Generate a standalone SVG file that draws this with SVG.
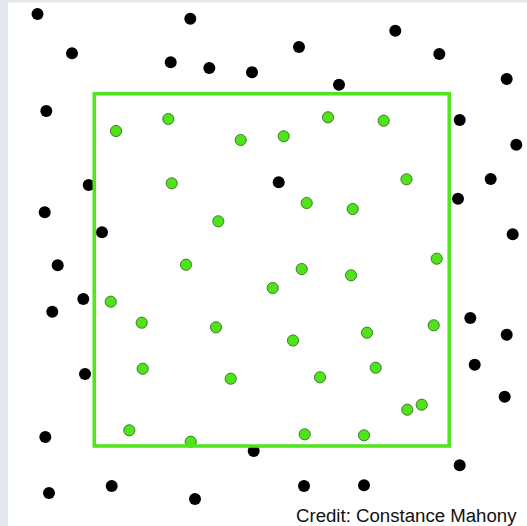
<svg xmlns="http://www.w3.org/2000/svg" width="527" height="526" viewBox="0 0 527 526">
<style>
.b{fill:#000}
.g{fill:#4fe41a;stroke:#2d5e1c;stroke-width:0.8}
.frame{fill:none;stroke:#52e51e;stroke-width:3.6}
.credit{font-family:"Liberation Sans",Arial,sans-serif;font-size:18px;fill:#111}
</style>
<rect x="0" y="0" width="527" height="526" fill="#ffffff"/>
<rect x="0" y="0" width="8" height="526" fill="#e5e9ed"/>
<rect x="0" y="0" width="527" height="2.5" fill="#e5e9ed"/>
<g id="black-dots">
<circle class="b" cx="37.5" cy="14" r="6"/>
<circle class="b" cx="190.3" cy="18.7" r="6"/>
<circle class="b" cx="72" cy="53.3" r="6"/>
<circle class="b" cx="170.7" cy="62.3" r="6"/>
<circle class="b" cx="209.3" cy="68" r="6"/>
<circle class="b" cx="252" cy="72.3" r="6"/>
<circle class="b" cx="46.3" cy="111" r="6"/>
<circle class="b" cx="395.3" cy="30.7" r="6"/>
<circle class="b" cx="299" cy="47" r="6"/>
<circle class="b" cx="439.3" cy="54" r="6"/>
<circle class="b" cx="339" cy="84.7" r="6"/>
<circle class="b" cx="506.7" cy="79" r="6"/>
<circle class="b" cx="459.7" cy="120" r="6"/>
<circle class="b" cx="516.3" cy="144.7" r="6"/>
<circle class="b" cx="88.7" cy="185" r="6"/>
<circle class="b" cx="44.7" cy="212.3" r="6"/>
<circle class="b" cx="102" cy="232.3" r="6"/>
<circle class="b" cx="57.7" cy="265.3" r="6"/>
<circle class="b" cx="83.3" cy="299" r="6"/>
<circle class="b" cx="52.3" cy="311.7" r="6"/>
<circle class="b" cx="278.7" cy="182.3" r="6"/>
<circle class="b" cx="490.7" cy="179" r="6"/>
<circle class="b" cx="458" cy="198.7" r="6"/>
<circle class="b" cx="512.7" cy="234.3" r="6"/>
<circle class="b" cx="470.3" cy="318" r="6"/>
<circle class="b" cx="506.7" cy="334.7" r="6"/>
<circle class="b" cx="85" cy="374" r="6"/>
<circle class="b" cx="474.7" cy="364.7" r="6"/>
<circle class="b" cx="504.7" cy="396.7" r="6"/>
<circle class="b" cx="45.3" cy="437" r="6"/>
<circle class="b" cx="253.7" cy="451" r="6"/>
<circle class="b" cx="49" cy="493" r="6"/>
<circle class="b" cx="111.7" cy="486" r="6"/>
<circle class="b" cx="195" cy="499" r="6"/>
<circle class="b" cx="459.7" cy="465.3" r="6"/>
<circle class="b" cx="304" cy="486" r="6"/>
<circle class="b" cx="364" cy="485.3" r="6"/>
</g>
<g id="green-dots">
<circle class="g" cx="116" cy="131" r="5.6"/>
<circle class="g" cx="168.3" cy="119" r="5.6"/>
<circle class="g" cx="240.7" cy="140" r="5.6"/>
<circle class="g" cx="328" cy="117.3" r="5.6"/>
<circle class="g" cx="383.7" cy="120.7" r="5.6"/>
<circle class="g" cx="283.7" cy="136.3" r="5.6"/>
<circle class="g" cx="406.5" cy="179.3" r="5.6"/>
<circle class="g" cx="171.7" cy="183.3" r="5.6"/>
<circle class="g" cx="218.3" cy="221.3" r="5.6"/>
<circle class="g" cx="186" cy="264.7" r="5.6"/>
<circle class="g" cx="110.7" cy="301.7" r="5.6"/>
<circle class="g" cx="141.7" cy="322.7" r="5.6"/>
<circle class="g" cx="216" cy="327.3" r="5.6"/>
<circle class="g" cx="306.7" cy="203" r="5.6"/>
<circle class="g" cx="352.7" cy="209" r="5.6"/>
<circle class="g" cx="436.7" cy="258.7" r="5.6"/>
<circle class="g" cx="301.7" cy="269" r="5.6"/>
<circle class="g" cx="351" cy="275.3" r="5.6"/>
<circle class="g" cx="272.7" cy="288" r="5.6"/>
<circle class="g" cx="433.7" cy="325.3" r="5.6"/>
<circle class="g" cx="293" cy="340.5" r="5.6"/>
<circle class="g" cx="367" cy="332.7" r="5.6"/>
<circle class="g" cx="142.7" cy="368.7" r="5.6"/>
<circle class="g" cx="230.7" cy="378.7" r="5.6"/>
<circle class="g" cx="320" cy="377.3" r="5.6"/>
<circle class="g" cx="375.7" cy="367.7" r="5.6"/>
<circle class="g" cx="407.3" cy="409.7" r="5.6"/>
<circle class="g" cx="421.7" cy="404.7" r="5.6"/>
<circle class="g" cx="129.3" cy="430.3" r="5.6"/>
<circle class="g" cx="190.7" cy="441.7" r="5.6"/>
<circle class="g" cx="304.7" cy="434.3" r="5.6"/>
<circle class="g" cx="364" cy="435.3" r="5.6"/>
</g>
<g id="frame">
<rect class="frame" x="94.3" y="93.7" width="354.9" height="352.3"/>
</g>
<text class="credit" x="296" y="522" textLength="220.5" lengthAdjust="spacingAndGlyphs">Credit: Constance Mahony</text>
</svg>
